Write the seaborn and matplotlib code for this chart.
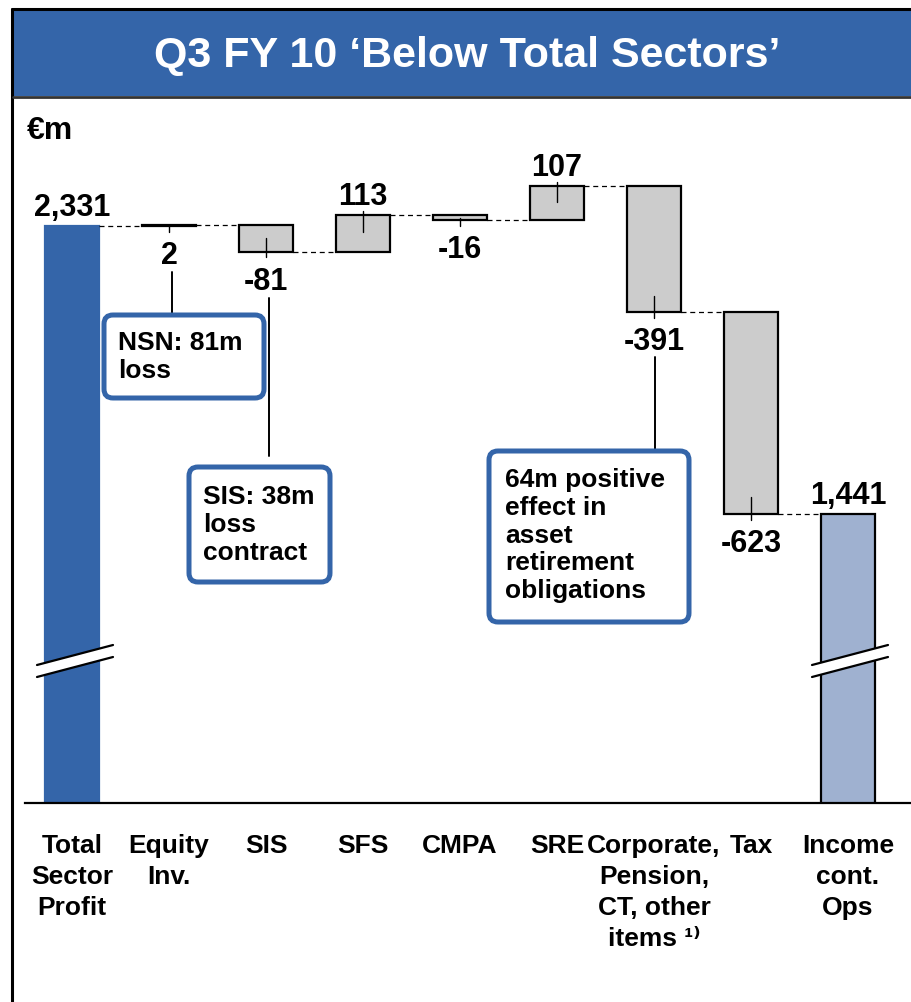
import matplotlib
matplotlib.use("Agg")
import matplotlib.pyplot as plt
import seaborn as sns
import numpy as np
import pandas as pd
from matplotlib.patches import FancyBboxPatch, Polygon, Rectangle

# ---------------- data ----------------
categories = ["Total\nSector\nProfit", "Equity\nInv.", "SIS", "SFS", "CMPA", "SRE",
              "Corporate,\nPension,\nCT, other\nitems ¹⁾", "Tax", "Income\ncont.\nOps"]
values = [2331, 2, -81, 113, -16, 107, -391, -623, 1441]
value_labels = ["2,331", "2", "-81", "113", "-16", "107", "-391", "-623", "1,441"]
is_total = [True, False, False, False, False, False, False, False, True]
title = "Q3 FY 10 \u2018Below Total Sectors\u2019"
unit = "€m"
notes = ["NSN: 81m\nloss", "SIS: 38m\nloss\ncontract",
         "64m positive\neffect in\nasset\nretirement\nobligations"]

# ---------------- waterfall geometry ----------------
bottoms, heights, starts, ends = [], [], [], []
cum = 0
for v, tot in zip(values, is_total):
    if tot:
        s, e = 0, v
        cum = v
    else:
        s, e = cum, cum + v
        cum = e
    starts.append(s); ends.append(e)
    bottoms.append(min(s, e)); heights.append(abs(e - s))

# ---------------- style ----------------
sns.set_theme(style="white")
plt.rcParams["font.family"] = ["Liberation Sans", "DejaVu Sans"]
BLUE = "#3465A9"
LIGHT = "#9FB1D0"
GRAY = "#CCCCCC"

W, H = 912, 1002
fig = plt.figure(figsize=(W / 100, H / 100), dpi=100)
fig.patch.set_facecolor("white")

ax_left, ax_right, ax_top, ax_bot = 25, 912, 110, 803
ax = fig.add_axes([ax_left / W, (H - ax_bot) / H, (ax_right - ax_left) / W, (ax_bot - ax_top) / H])

df = pd.DataFrame({"cat": categories, "height": heights})
bar_w = 0.567
sns.barplot(data=df, x="cat", y="height", bottom=bottoms, width=bar_w, color=GRAY,
            saturation=1, edgecolor="black", linewidth=1.6, errorbar=None, ax=ax)

for i, p in enumerate(ax.patches):
    if i == 0:
        p.set_facecolor(BLUE); p.set_edgecolor(BLUE)
    elif i == len(values) - 1:
        p.set_facecolor(LIGHT); p.set_edgecolor("black")

px_per_unit = 288 / 890.0
ymax = 2331 + (226 - ax_top) / px_per_unit
ymin = 2331 - (ax_bot - 226) / px_per_unit
ax.set_ylim(ymin, ymax)
ax.set_xlim(-(72 - ax_left) / 97.0, 8 + (ax_right - 848) / 97.0)

for s in ["left", "right", "top"]:
    ax.spines[s].set_visible(False)
ax.spines["bottom"].set_color("black")
ax.spines["bottom"].set_linewidth(1.6)
ax.set_yticks([])
ax.set_xlabel(""); ax.set_ylabel("")
ax.set_xticks(range(len(categories)))
ax.set_xticklabels(categories, fontsize=19, fontweight="bold", color="black", linespacing=1.37)
ax.tick_params(axis="x", length=0, pad=22)

# dashed connectors
for i in range(len(values) - 1):
    lvl = ends[i]
    ax.plot([i + bar_w / 2, i + 1 - bar_w / 2], [lvl, lvl], color="black", lw=0.9,
            ls=(0, (4, 3)), zorder=1)

# value labels and small ticks
label_side = ["above", "below", "below", "above", "below", "above", "below", "below", "above"]
for i, (lab, side) in enumerate(zip(value_labels, label_side)):
    top = bottoms[i] + heights[i]
    bot = bottoms[i]
    if side == "above":
        if not is_total[i]:
            ax.plot([i, i], [top - min(52, heights[i] / 2), top + 12], color="black", lw=1.0, zorder=3)
        ax.annotate(lab, (i, top), xytext=(0, 18), textcoords="offset pixels",
                    ha="center", va="center", fontsize=22, fontweight="bold", color="black",
                    annotation_clip=False)
    else:
        ax.plot([i, i], [bot + min(50, heights[i] / 2), bot - 18], color="black", lw=1.0, zorder=3)
        ax.annotate(lab, (i, bot), xytext=(0, -30), textcoords="offset pixels",
                    ha="center", va="center", fontsize=22, fontweight="bold", color="black",
                    annotation_clip=False)

# ---------------- overlay (pixel coordinates) ----------------
ov = fig.add_axes([0, 0, 1, 1])
ov.set_xlim(0, W); ov.set_ylim(H, 0)
ov.axis("off")

# banner + frame
ov.add_patch(Rectangle((12, 9), W - 12, 87, facecolor=BLUE, edgecolor="none"))
ov.plot([12, W], [9, 9], color="black", lw=2.2)
ov.plot([12, 12], [9, H], color="black", lw=2.2)
ov.plot([13, W], [97, 97], color="#333333", lw=2)
ov.text(467, 56, title, color="white", fontsize=31, fontweight="bold", ha="center", va="center")
ov.text(27, 131, unit, color="black", fontsize=23, fontweight="bold", ha="left", va="center")

# axis breaks
for x0, x1 in [(37, 113), (812, 888)]:
    ov.add_patch(Polygon([(x0, 665), (x1, 645), (x1, 657), (x0, 677)], closed=True,
                         facecolor="white", edgecolor="none", zorder=5))
    ov.plot([x0, x1], [665, 645], color="black", lw=1.6, zorder=6)
    ov.plot([x0, x1], [677, 657], color="black", lw=1.6, zorder=6)

# leader lines
for (x, y0, y1) in [(172, 272, 316), (269, 298, 456), (655, 357, 452)]:
    ov.plot([x, x], [y0, y1], color="black", lw=1.4)

# note boxes
boxes = [(104, 315, 160, 83, 118, 331), (189, 467, 141, 115, 203, 485), (489, 451, 200, 171, 505, 468)]
for (bx, by, bw, bh, tx, ty), note in zip(boxes, notes):
    ov.add_patch(FancyBboxPatch((bx, by), bw, bh, boxstyle="round,pad=0,rounding_size=9",
                                facecolor="white", edgecolor=BLUE, lw=3.6, zorder=4))
    ov.text(tx, ty, note, fontsize=19, fontweight="bold", color="black", ha="left", va="top",
            linespacing=1.2, zorder=5)

fig.savefig("out.png", dpi=100, facecolor="white")
